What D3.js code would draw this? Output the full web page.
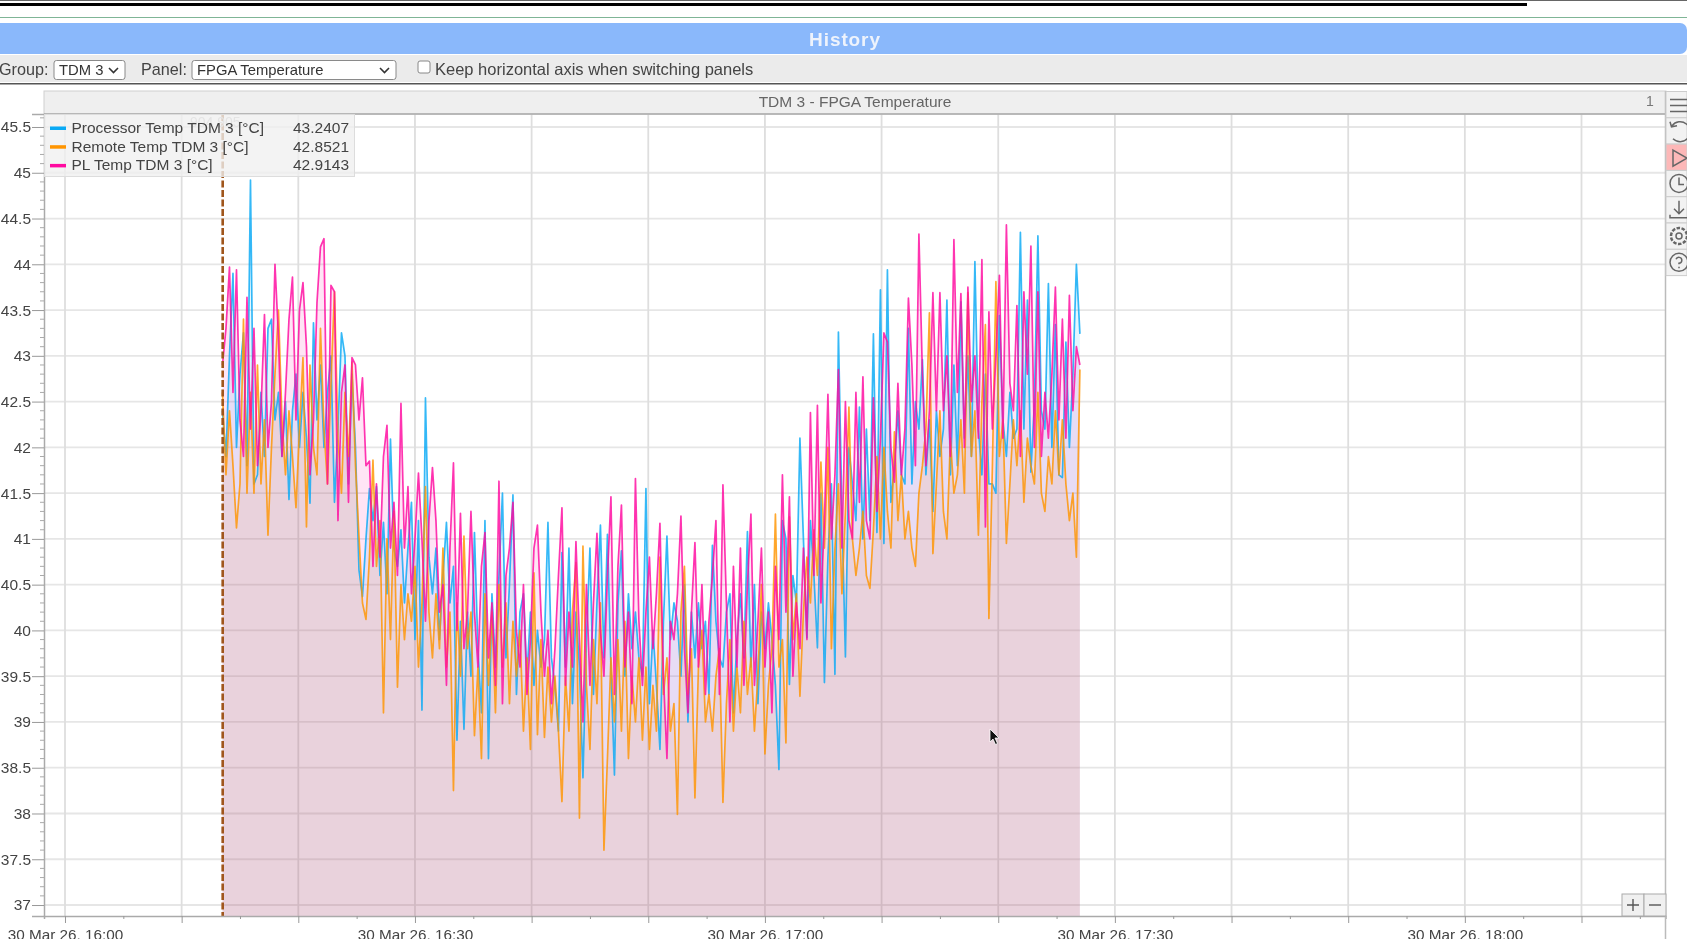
<!DOCTYPE html>
<html><head><meta charset="utf-8">
<script src="https://cdn.jsdelivr.net/npm/d3@7"></script>
<style>
html,body{margin:0;padding:0;background:#fff;overflow:hidden}
svg{display:block;filter:blur(0.55px)}
text{font-family:"Liberation Sans",Arial,sans-serif;fill:#444}
</style></head><body>
<script>
const seriesNames = ["Processor Temp TDM 3 [°C]","Remote Temp TDM 3 [°C]","PL Temp TDM 3 [°C]"];
const legendValues = ["43.2407","42.8521","42.9143"];
const seriesColors = ["#0aaaf5","#ff9500","#ff0aa0"];
const startTime = "2026-03-30T16:13:30Z";
const sampleSeconds = 18;
const xGridMinutes = [0,10,20,30,40,50,60,70,80,90,100,110,120,130];
const xTickMinutes = [0,5,10,15,20,25,30,35,40,45,50,55,60,65,70,75,80,85,90,95,100,105,110,115,120,125,130,135];
const xLabelMinutes = [0,30,60,90,120];
const yMajorTicks = [37,37.5,38,38.5,39,39.5,40,40.5,41,41.5,42,42.5,43,43.5,44,44.5,45,45.5];
const yMinorTicks = [37.1,37.2,37.3,37.4,37.6,37.7,37.8,37.9,38.1,38.2,38.3,38.4,38.6,38.7,38.8,38.9,39.1,39.2,39.3,39.4,39.6,39.7,39.8,39.9,40.1,40.2,40.3,40.4,40.6,40.7,40.8,40.9,41.1,41.2,41.3,41.4,41.6,41.7,41.8,41.9,42.1,42.2,42.3,42.4,42.6,42.7,42.8,42.9,43.1,43.2,43.3,43.4,43.6,43.7,43.8,43.9,44.1,44.2,44.3,44.4,44.6,44.7,44.8,44.9,45.1,45.2,45.3,45.4,45.6];

const processorTemp = [
42.4,41.9,43.0,43.9,42.0,42.8,43.25,41.8,44.92,41.6,
41.7,42.6,41.9,43.3,43.4,42.3,42.6,41.9,42.5,41.43,
42.4,42.8,42.0,42.6,42.1,41.39,43.36,42.3,42.9,42.0,
42.6,43.0,41.4,42.2,43.25,43.0,41.6,42.8,42.0,40.66,
40.37,41.0,41.55,41.2,41.57,40.6,41.18,40.4,42.09,40.9,
40.7,41.1,40.3,40.9,41.4,39.9,41.2,39.13,42.54,40.8,
40.4,40.9,39.9,40.6,41.18,40.3,40.7,38.8,40.1,38.92,
40.2,39.5,41.07,39.8,39.1,41.2,38.6,40.4,39.6,40.6,
41.5,39.7,40.5,41.48,39.3,40.2,40.4,39.5,40.2,39.4,
40.0,39.6,39.9,41.18,39.7,39.4,38.9,40.85,39.6,40.9,
39.2,40.2,39.6,38.39,39.9,40.9,39.3,40.3,41.15,39.7,
41.05,39.6,38.42,40.3,40.87,39.5,40.4,39.8,40.2,39.7,
39.5,41.55,39.2,40.0,39.4,38.7,40.1,41.03,39.9,40.3,
40.1,39.5,40.5,39.0,40.2,39.7,40.3,39.8,40.1,39.3,
40.93,40.1,39.7,39.6,40.2,40.4,39.1,39.9,40.4,39.7,
41.08,39.6,40.5,39.2,40.2,39.8,40.3,39.9,39.4,38.48,
41.2,41.0,39.41,40.6,40.3,42.1,41.0,39.92,41.2,40.6,
39.81,41.5,39.43,40.8,41.6,39.52,43.26,41.3,39.71,42.0,
41.6,41.2,42.44,41.0,42.2,41.2,43.24,41.07,43.72,40.95,
43.94,41.4,41.8,42.4,41.7,41.6,43.3,41.6,42.5,42.2,
42.96,41.7,42.3,41.3,42.4,41.9,42.2,43.61,41.7,42.9,
41.8,43.59,42.1,43.0,41.9,44.03,42.2,41.7,42.8,41.6,
41.6,41.5,43.44,42.3,41.9,42.6,42.1,42.2,44.35,42.2,
43.61,41.73,42.5,44.31,42.4,42.2,43.79,42.0,43.34,41.7,
41.67,43.15,42.0,42.8,44.0,43.24];

const remoteTemp = [
42.6,41.7,42.4,41.8,41.12,41.6,43.4,41.5,42.6,41.5,
42.9,41.6,42.3,41.04,42.0,42.8,43.5,42.3,41.7,42.4,
41.9,41.34,42.2,42.98,41.13,42.9,42.0,41.7,43.3,42.2,
41.6,42.7,43.7,42.1,41.5,42.6,41.9,42.93,41.8,41.03,
40.3,40.12,40.8,41.86,40.7,41.2,39.1,41.0,39.9,41.3,
39.38,40.5,39.9,40.4,40.1,40.7,39.6,40.3,41.57,40.2,
39.7,40.4,39.8,40.9,39.6,40.2,38.25,40.3,39.5,41.03,
39.8,40.2,38.85,39.6,38.6,40.4,39.4,40.2,39.1,40.5,
39.6,40.3,39.2,40.1,39.5,40.0,38.9,39.7,38.7,40.63,
38.86,39.9,38.83,39.6,39.0,39.5,38.9,38.13,39.5,38.9,
40.2,40.74,37.95,40.92,39.4,38.7,39.9,39.2,40.3,37.6,
38.6,39.7,39.0,39.9,38.9,40.1,38.6,39.5,39.0,39.7,
38.8,39.6,38.7,39.4,38.9,40.8,39.3,39.7,38.9,39.2,
37.99,40.2,40.7,39.3,39.8,38.17,39.6,40.0,39.0,39.3,
38.9,39.5,39.8,38.12,39.2,39.9,38.9,39.6,39.1,40.1,
39.3,39.7,38.9,39.5,40.5,38.65,39.4,39.8,41.27,39.6,
39.9,38.77,41.24,39.9,40.4,39.28,40.2,40.8,40.3,41.1,
40.6,41.84,40.9,42.0,39.8,40.9,41.6,40.4,41.3,42.44,
41.0,40.6,40.9,41.3,40.6,40.46,41.1,41.9,41.0,42.0,
41.3,40.9,42.17,41.2,41.7,41.0,41.3,40.9,40.7,41.5,
41.8,42.2,43.47,40.84,41.6,42.4,41.3,41.0,42.1,41.5,
41.7,42.3,41.5,43.69,41.9,42.4,41.04,42.5,43.34,40.13,
41.8,43.81,41.9,42.3,40.95,41.6,42.3,41.8,42.4,41.4,
42.1,41.8,41.6,42.6,41.5,41.3,41.9,41.6,42.4,41.7,
42.3,41.6,41.2,41.5,40.8,42.85];

const plTemp = [
42.9,43.3,43.97,42.6,43.94,42.3,41.9,43.64,42.2,43.3,
41.8,42.4,43.45,42.0,42.5,44.0,43.2,41.9,42.6,43.4,
43.86,42.3,43.5,43.8,43.1,41.7,42.3,43.58,44.19,44.28,
41.6,43.77,43.7,41.2,42.6,42.9,41.4,42.98,42.9,42.3,
42.76,41.8,41.85,40.7,41.6,40.8,41.9,42.24,40.9,41.4,
40.6,42.48,40.9,41.57,40.4,41.0,41.72,41.0,40.1,41.2,
41.78,41.2,40.2,40.5,39.4,40.9,41.83,40.0,41.28,39.8,
40.2,41.3,40.2,39.6,40.7,41.07,39.7,40.3,39.4,41.63,
39.2,40.6,40.9,41.4,40.0,39.6,40.5,39.3,39.9,40.9,
41.15,40.2,39.5,40.0,39.2,39.8,40.6,41.34,39.4,40.2,
39.6,40.97,39.9,39.0,40.5,39.4,40.3,41.06,40.0,39.5,
40.6,41.46,39.3,40.7,41.37,39.6,40.2,39.2,41.66,40.1,
39.4,40.2,40.8,39.8,40.4,41.17,39.5,38.6,40.1,39.9,
40.4,41.25,39.8,39.1,40.2,40.96,39.6,40.5,39.3,40.1,
40.6,41.2,39.3,41.59,40.3,39.0,40.7,39.6,40.9,39.4,
40.5,41.27,39.4,40.1,40.9,39.6,40.2,39.1,40.7,39.9,
41.7,40.2,41.46,39.5,40.3,39.8,40.9,39.9,42.38,40.6,
42.46,40.3,41.2,42.58,41.0,41.7,42.85,40.9,42.5,41.2,
41.0,42.6,41.4,42.77,41.2,41.0,42.54,41.3,42.1,43.25,
43.15,42.0,41.62,42.7,41.7,42.2,43.63,42.9,41.8,44.33,
42.8,41.8,42.4,43.69,42.4,43.69,42.4,43.0,41.9,44.27,
42.6,43.68,42.0,43.75,42.5,43.0,42.1,44.05,41.13,43.48,
42.2,43.0,43.88,42.1,44.43,42.7,42.4,43.55,41.9,43.7,
42.8,44.2,42.0,43.7,41.9,42.6,42.1,42.8,43.75,42.3,
43.4,42.1,43.66,42.4,43.1,42.9];

const allSeries = [processorTemp, remoteTemp, plTemp];
const W = 1687, H = 939;
const plot = {l:44, r:1665.5, t:114, b:916};
const t0 = new Date("2026-03-30T16:00:00Z");
const minute = m => new Date(+t0 + m*60000);
const x = d3.scaleUtc().domain([minute(-1.8), minute(137.2)]).range([plot.l, plot.r]);
const y = d3.scaleLinear().domain([36.88, 45.642]).range([plot.b, plot.t]);
const times = processorTemp.map((_, i) => new Date(+new Date(startTime) + i*sampleSeconds*1000));

const svg = d3.select("body").append("svg").attr("width",W).attr("height",H);

// page chrome
svg.append("rect").attr("width",W).attr("height",1).attr("fill","#666");
svg.append("rect").attr("y",3).attr("width",1527).attr("height",3).attr("fill","#000");
svg.append("rect").attr("y",17).attr("width",W).attr("height",1).attr("fill","#7fb596");
svg.append("rect").attr("x",-10).attr("y",23).attr("width",W+10).attr("height",31).attr("rx",7).attr("fill","#8ab8fb");
svg.append("text").attr("x",845).attr("y",46).attr("text-anchor","middle").attr("font-size",19).attr("letter-spacing",0.9).attr("font-weight","bold").style("fill","#eef3fc").text("History");
svg.append("rect").attr("y",55).attr("width",W).attr("height",27).attr("fill","#ebebeb");
svg.append("rect").attr("y",83).attr("width",W).attr("height",1.5).attr("fill","#555");
const label = (t,xx,yy,o={}) => svg.append("text").attr("x",xx).attr("y",yy).attr("font-size",o.size||15.5).attr("text-anchor",o.anchor||"start").style("fill",o.fill||"#444").text(t);
label("Group:",-1,75,{size:16.2});
label("Panel:",141,75,{size:16.2});
const select = (xx,w,t) => {
  svg.append("rect").attr("x",xx).attr("y",60.5).attr("width",w).attr("height",19).attr("rx",2.5).attr("fill","#fff").attr("stroke","#8a8a8a");
  label(t,xx+5,75,{fill:"#333",size:14.8});
  svg.append("path").attr("d",`M${xx+w-16},68 l4.5,4.5 l4.5,-4.5`).attr("fill","none").attr("stroke","#333").attr("stroke-width",1.6);
};
select(54,71,"TDM 3");
select(192,204,"FPGA Temperature");
svg.append("rect").attr("x",418).attr("y",61).attr("width",12).attr("height",12).attr("rx",2).attr("fill","#fff").attr("stroke","#888");
label("Keep horizontal axis when switching panels",435,75,{size:16.5});

// panel frame
svg.append("rect").attr("x",44).attr("y",91).attr("width",1622).attr("height",23).attr("fill","#efefef").attr("stroke","#cfcfcf");
label("TDM 3 - FPGA Temperature",855,106.5,{anchor:"middle",size:15.5,fill:"#666"});
label("1",1650,106,{anchor:"middle",size:14,fill:"#777"});

// grid
svg.append("g").selectAll("line").data(yMajorTicks).join("line")
  .attr("x1",plot.l).attr("x2",plot.r).attr("y1",d=>y(d)).attr("y2",d=>y(d)).attr("stroke","#e6e6e6").attr("stroke-width",1.8);
svg.append("g").selectAll("line").data(xGridMinutes).join("line")
  .attr("x1",d=>x(minute(d))).attr("x2",d=>x(minute(d))).attr("y1",plot.t).attr("y2",plot.b).attr("stroke","#dedede").attr("stroke-width",1.8);

// fills + lines
svg.append("clipPath").attr("id","pc").append("rect").attr("x",plot.l).attr("y",plot.t).attr("width",plot.r-plot.l).attr("height",plot.b-plot.t);
const gPlot = svg.append("g").attr("clip-path","url(#pc)");
const area = d3.area().x((d,i)=>x(times[i])).y0(plot.b).y1(d=>y(d));
const line = d3.line().x((d,i)=>x(times[i])).y(d=>y(d));
allSeries.forEach((s,i)=>{
  gPlot.append("path").datum(s).attr("d",area).attr("fill",seriesColors[i]).attr("fill-opacity",0.11);
});
allSeries.forEach((s,i)=>{
  gPlot.append("path").datum(s).attr("d",line).attr("fill","none").attr("stroke",seriesColors[i]).attr("stroke-width",1.7).attr("stroke-opacity",0.82).attr("stroke-linejoin","round");
});

// cursor line
gPlot.append("line").attr("x1",x(times[0])+0.2).attr("x2",x(times[0])+0.2).attr("y1",plot.t).attr("y2",plot.b)
  .attr("stroke","#a0561c").attr("stroke-width",2.6).attr("stroke-dasharray","7,2.5");

// axes
const xAxis = d3.axisBottom(x).tickValues(xTickMinutes.map(minute)).tickSize(3)
  .tickFormat(d => {
    const m = (d - t0)/60000;
    return xLabelMinutes.includes(m) ? d3.utcFormat("%d %b %y, %H:%M")(d) : "";
  });
const gx = svg.append("g").attr("transform",`translate(0,${plot.b})`).call(xAxis);
gx.select(".domain").attr("stroke","#aaa").attr("stroke-width",1.5);
gx.selectAll(".tick line").attr("stroke","#999").attr("y2",d=>xGridMinutes.includes((d-t0)/60000)?7:3).attr("stroke-width",1);
gx.selectAll(".tick text").attr("font-size",15.3).attr("y",10).attr("dy","0.93em").attr("font-family",null).style("fill","#444");

const yAxis = d3.axisLeft(y).tickValues(yMajorTicks).tickSize(12).tickFormat(d=>String(d));
const gy = svg.append("g").attr("transform",`translate(${plot.l},0)`).call(yAxis);
gy.select(".domain").attr("stroke","#aaa").attr("stroke-width",1.5);
gy.selectAll(".tick line").attr("stroke","#999");
gy.selectAll(".tick text").attr("font-size",15.5).attr("font-family",null).attr("x",-13).style("fill","#444");
svg.append("g").selectAll("line").data(yMinorTicks.filter(d=>y(d)>plot.t)).join("line")
  .attr("x1",plot.l-4).attr("x2",plot.l).attr("y1",d=>y(d)).attr("y2",d=>y(d)).attr("stroke","#aaa");

// panel edges
svg.append("line").attr("x1",plot.l).attr("x2",plot.r).attr("y1",plot.t).attr("y2",plot.t).attr("stroke","#aaa").attr("stroke-width",1.5);
svg.append("line").attr("x1",plot.r).attr("x2",plot.r).attr("y1",91).attr("y2",H).attr("stroke","#bbb").attr("stroke-width",1.5);

// legend
svg.append("text").attr("x",190).attr("y",127).attr("font-size",14).style("fill","#bbb").text("904 905");
svg.append("rect").attr("x",44.5).attr("y",114.5).attr("width",310).attr("height",62).attr("fill","#efefef").attr("fill-opacity",0.78).attr("stroke","#ddd");
seriesNames.forEach((n,i)=>{
  const yy = 128 + i*18.7;
  svg.append("rect").attr("x",50).attr("y",yy-1.5).attr("width",16).attr("height",3.5).attr("fill",seriesColors[i]);
  label(n,71.5,yy+5);
  label(legendValues[i],349,yy+5,{anchor:"end"});
});

// +/- buttons
[[1622,"M1627,905 h12 M1633,899 v12"],[1644,"M1649,905 h12"]].forEach(([bx,p])=>{
  svg.append("rect").attr("x",bx).attr("y",894).attr("width",22).attr("height",22).attr("fill","#f0f0f0").attr("stroke","#aaa");
  svg.append("path").attr("d",p).attr("stroke","#555").attr("stroke-width",1.4).attr("fill","none");
});

// sidebar icons
const icon = (i, bg) => {
  const yy = 91.5 + i*26.3;
  svg.append("rect").attr("x",1666).attr("y",yy).attr("width",21).attr("height",26.3).attr("fill",bg||"#f2f2f2").attr("stroke","#ccc");
  return svg.append("g").attr("transform",`translate(1666,${yy})`).attr("fill","none").attr("stroke","#666").attr("stroke-width",1.5);
};
icon(0).append("path").attr("d","M4,8 H21 M4,14 H21 M4,20 H21");
icon(1).append("path").attr("d","M6,8 A10,10 0 1 1 7,21 M4,4 L5.5,9 L11,8");
icon(2,"#fdb8b8").append("path").attr("d","M7,6 L21,14 L7,22 Z");
const clock = icon(3); clock.append("circle").attr("cx",13).attr("cy",13).attr("r",9); clock.append("path").attr("d","M13,7 V14 H18");
icon(4).append("path").attr("d","M13,4 V17 M8,12 L13,17 L18,12 M4,18 V21 H22 V18");
const gear = icon(5); gear.append("circle").attr("cx",13).attr("cy",13).attr("r",3); gear.append("circle").attr("cx",13).attr("cy",13).attr("r",8).attr("stroke-dasharray","3.5,1.5").attr("stroke-width",2.5);
const help = icon(6); help.append("circle").attr("cx",13).attr("cy",13).attr("r",9);
help.append("path").attr("d","M10,10 A3,3 0 1 1 13,14 V15 M13,17.5 V19");

// mouse cursor
svg.append("path").attr("d","M990,729 l0,13 l3,-3 l2.5,5.5 l2,-1 l-2.5,-5.5 l4,0 Z").attr("fill","#111").attr("stroke","#fff").attr("stroke-width",0.8);
</script>
</body></html>
